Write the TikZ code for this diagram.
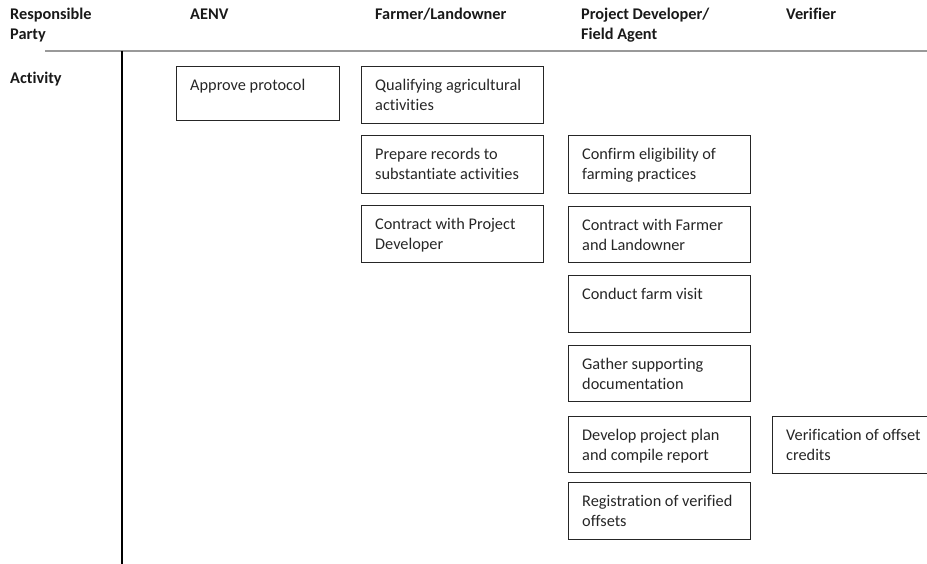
\documentclass[tikz,border=0pt]{standalone}
\usepackage{fontspec}
\setmainfont{Carlito}[Ligatures=NoCommon]
\newcommand{\tstrut}{\rule{0pt}{14pt}}
\begin{document}
\begin{tikzpicture}[x=1pt,y=-1pt,
  box/.style={draw=black!85, line width=1.1pt, rectangle, anchor=north west, inner sep=0pt},
  txt/.style={anchor=north west, inner sep=0pt, align=left, font=\fontsize{16.3}{20}\selectfont, text=black!85},
  hdr/.style={anchor=north west, inner sep=0pt, align=left, font=\fontsize{16.3}{20}\selectfont\bfseries, text=black!90}]
\useasboundingbox (0,0) rectangle (927,564);
\clip (0,0) rectangle (927,564);
% header (node top = baseline - 14)
\node[hdr] (hresp) at (10,5) {\tstrut Responsible\\Party};
\node[hdr] (haenv) at (190,5) {\tstrut AENV};
\node[hdr] (hfarm) at (375,5) {\tstrut Farmer/Landowner};
\node[hdr] (hpd) at (581,5) {\tstrut Project Developer/\\Field Agent};
\node[hdr] (hver) at (786,5) {\tstrut Verifier};
\node[hdr] (hact) at (10,69) {\tstrut Activity};
\coordinate (la) at (45,51);
\coordinate (lb) at (927,51);
\draw[line width=2pt, draw=black!40] (la) -- (lb);
\coordinate (va) at (122,51);
\coordinate (vb) at (122,564);
\draw[line width=1.3pt, draw=black] (va) -- (vb);
% boxes (text top = box top + 24 - 14)
\node[box, minimum width=163pt, minimum height=54pt] (b1) at (176,66) {};
\node[txt] at ([xshift=14pt,yshift=-10pt]b1.north west) {\tstrut Approve protocol};
\node[box, minimum width=182pt, minimum height=57pt] (b2) at (361,66) {};
\node[txt] at ([xshift=14pt,yshift=-10pt]b2.north west) {\tstrut Qualifying agricultural\\activities};
\node[box, minimum width=182pt, minimum height=58pt] (b3) at (361,135) {};
\node[txt] at ([xshift=14pt,yshift=-10pt]b3.north west) {\tstrut Prepare records to\\substantiate activities};
\node[box, minimum width=182pt, minimum height=57pt] (b4) at (361,205) {};
\node[txt] at ([xshift=14pt,yshift=-10pt]b4.north west) {\tstrut Contract with Project\\Developer};
\node[box, minimum width=182pt, minimum height=58pt] (c1) at (568,135) {};
\node[txt] at ([xshift=14pt,yshift=-10pt]c1.north west) {\tstrut Confirm eligibility of\\farming practices};
\node[box, minimum width=182pt, minimum height=56pt] (c2) at (568,206) {};
\node[txt] at ([xshift=14pt,yshift=-10pt]c2.north west) {\tstrut Contract with Farmer\\and Landowner};
\node[box, minimum width=182pt, minimum height=57pt] (c3) at (568,275) {};
\node[txt] at ([xshift=14pt,yshift=-10pt]c3.north west) {\tstrut Conduct farm visit};
\node[box, minimum width=182pt, minimum height=56pt] (c4) at (568,345) {};
\node[txt] at ([xshift=14pt,yshift=-10pt]c4.north west) {\tstrut Gather supporting\\documentation};
\node[box, minimum width=182pt, minimum height=56pt] (c5) at (568,416) {};
\node[txt] at ([xshift=14pt,yshift=-10pt]c5.north west) {\tstrut Develop project plan\\and compile report};
\node[box, minimum width=182pt, minimum height=57pt] (c6) at (568,482) {};
\node[txt] at ([xshift=14pt,yshift=-10pt]c6.north west) {\tstrut Registration of verified\\offsets};
\node[box, minimum width=170pt, minimum height=57pt] (d1) at (772,416) {};
\node[txt] at ([xshift=14pt,yshift=-10pt]d1.north west) {\tstrut Verification of offset\\credits};
\end{tikzpicture}
\end{document}
